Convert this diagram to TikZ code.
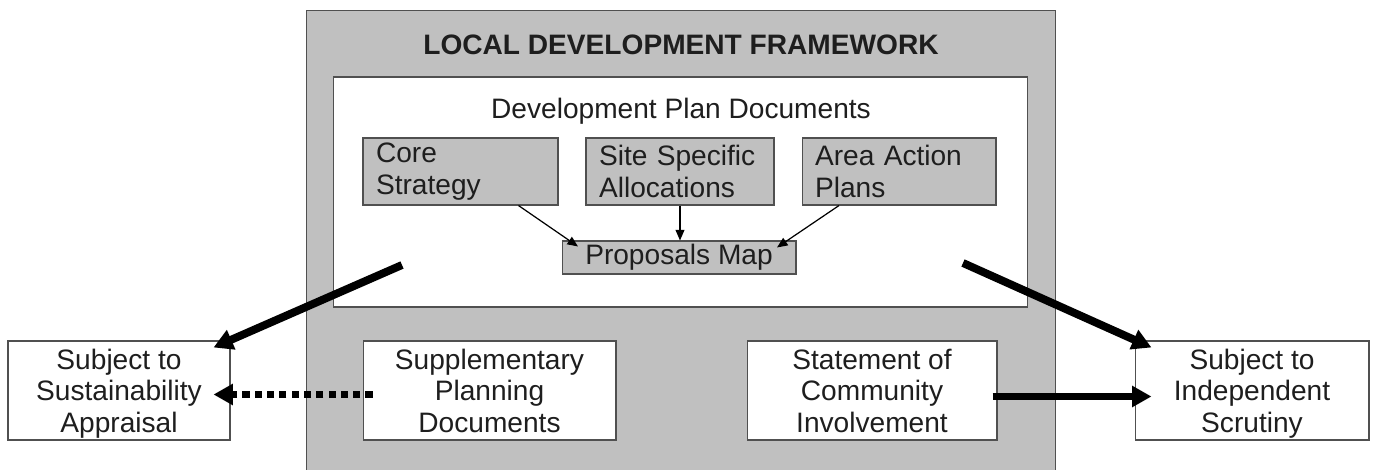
\documentclass[tikz,border=0pt]{standalone}
\usepackage{fontspec}
\setmainfont{Liberation Sans}
\usetikzlibrary{arrows.meta}

\definecolor{framegray}{RGB}{192,192,192}
\definecolor{linegray}{RGB}{80,80,80}
\definecolor{textgray}{RGB}{30,30,30}

\begin{document}
\begin{tikzpicture}[x=0.02cm, y=-0.02cm,
		every node/.style={font=\fontsize{16}{18}\selectfont, text=textgray},
		boxline/.style={draw=linegray, line width=0.6pt, inner ysep=0pt},
		subbox/.style={boxline, fill=framegray, align=left, inner xsep=0.26cm, minimum height=1.34cm},
		bigbox/.style={boxline, fill=white, align=center, text depth=0pt, minimum height=1.98cm},
		smallarrow/.style={-{Triangle[length=6pt, width=5pt]}, line width=0.7pt},
		bigarrow/.style={-{Triangle[length=11pt, width=11.5pt]}, line width=4.5pt}]
		\useasboundingbox (0,0) rectangle (1373,470);
		% framework and plan documents
		\node[boxline, fill=framegray, minimum width=15cm, minimum height=9.4cm] (ldf) at (681,245) {};
		\node[font=\fontsize{16}{18}\selectfont\bfseries] (title) at (681,45) {LOCAL DEVELOPMENT FRAMEWORK};
		\node[boxline, fill=white, minimum width=13.9cm, minimum height=4.6cm] (dpd) at (680.5,192) {};
		\node (dpdtitle) at (681,111) {Development Plan Documents};
		\node[subbox, text width=3.38cm] (core) at (460.5,171.5) {Core\\Strategy};
		\node[subbox, text width=3.24cm] (site) at (680,171.5) {Site Specific\\Allocations};
		\node[subbox, text width=3.36cm] (area) at (899,171.5) {Area Action\\Plans};
		\node[boxline, fill=framegray, minimum width=4.68cm, minimum height=0.66cm] (pmap) at (679,257.5) {Proposals Map};
		% lower row
		\node[bigbox, minimum width=4.44cm] (ssa) at (119,390.5) {Subject to\\Sustainability\\Appraisal};
		\node[bigbox, minimum width=5.06cm] (spd) at (489.5,390.5) {Supplementary\\Planning\\Documents};
		\node[bigbox, minimum width=5.0cm] (sci) at (872,390.5) {Statement of\\Community\\Involvement};
		\node[bigbox, minimum width=4.68cm] (sis) at (1252,390.5) {Subject to\\Independent\\Scrutiny};
		\coordinate (lstart) at (402,265);
		\coordinate (rstart) at (963,263);
		\draw[smallarrow] ([shift={(58,0)}]core.south) -- ([shift={(-101,6)}]pmap.north);
		\draw[smallarrow] (site.south) -- (site.south |- pmap.north);
		\draw[smallarrow] ([shift={(-60,0)}]area.south) -- ([shift={(98,7)}]pmap.north);
		\draw[bigarrow] (lstart) -- ([shift={(-17,7)}]ssa.north east);
		\draw[bigarrow] (rstart) -- ([shift={(17,7)}]sis.north west);
		\draw[bigarrow, dash pattern=on 4pt off 3pt] ([shift={(10,4)}]spd.west) -- ([shift={(-17,4)}]ssa.east);
		\draw[bigarrow] ([shift={(-5,6)}]sci.east) -- ([shift={(17,6)}]sis.west);
	\end{tikzpicture}
\end{document}
